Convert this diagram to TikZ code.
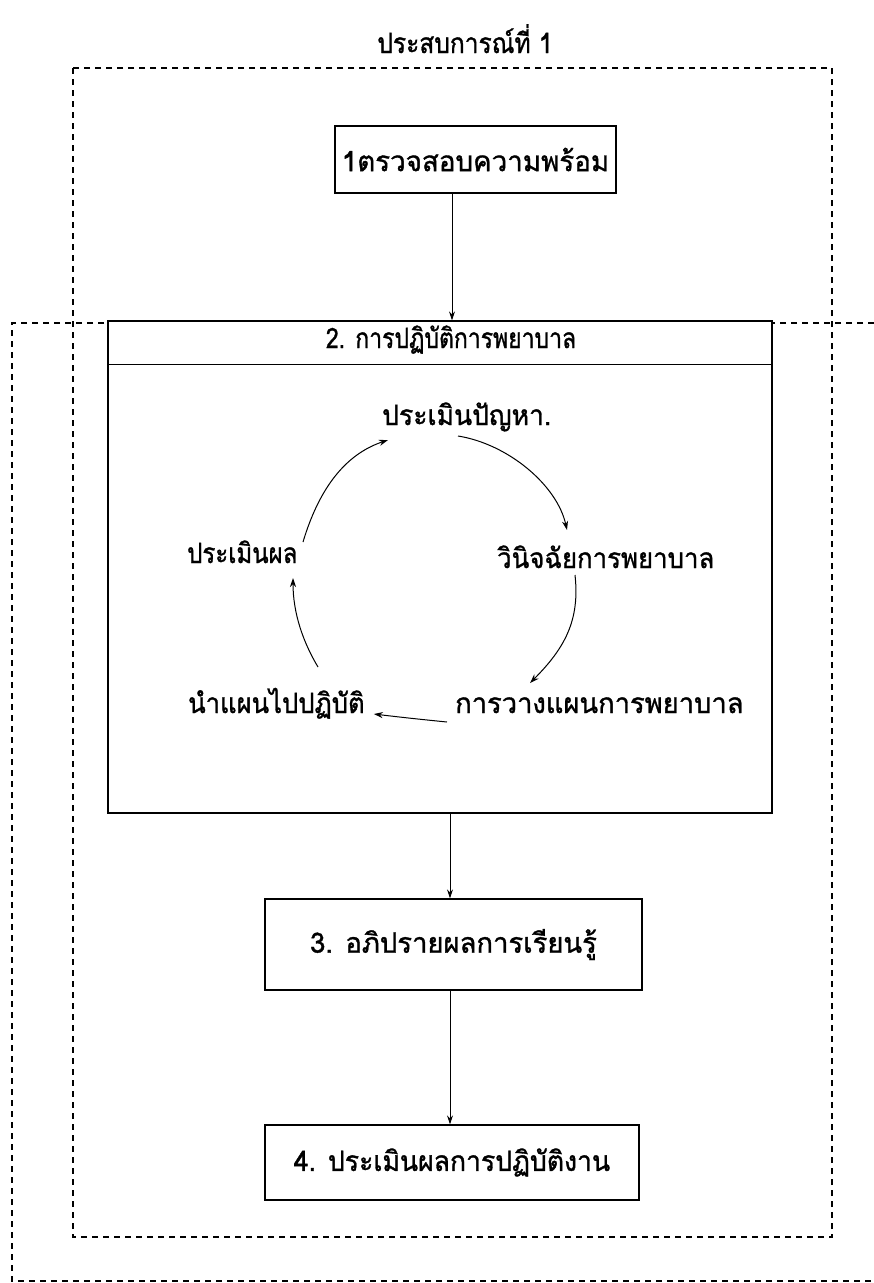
\documentclass[tikz,border=0pt]{standalone}
\usepackage{fontspec}
\newfontfamily\thai[Script=Thai, FakeBold=1.2]{Loma}
\usetikzlibrary{arrows.meta}
\newcommand{\hsq}[2]{\scalebox{#1}[1]{#2}}
\begin{document}
\begin{tikzpicture}[x=1pt,y=-1pt,
  font=\thai\fontsize{28}{32}\selectfont,
  box/.style={draw, line width=1.2pt, inner sep=0pt, fill=white},
  lbl/.style={inner sep=0pt, anchor=base west},
  arr/.style={-{Stealth[length=9pt,width=6pt]}, line width=1pt},
  frame/.style={dash pattern=on 6pt off 5pt, line width=1.2pt}]
\useasboundingbox (0,0) rectangle (874,1283);
% frames
\draw[frame] (73,68) rectangle (832,1237);
\draw[frame] (874,323) -- (12,323) -- (12,1281) -- (874,1281);
% title
\node[anchor=base, inner sep=0pt] (title) at (465,53) {\hsq{0.877}{ประสบการณ์ที่ 1}};
% boxes
\node[box, minimum width=281pt, minimum height=67pt] (b1) at (475.5,159.5) {\hsq{0.99}{1ตรวจสอบความพร้อม}};
\node[box, minimum width=664pt, minimum height=492pt] (b2) at (440,567) {};
\node[anchor=base, inner sep=0pt] (t2) at (451,348) {\hsq{0.82}{2. การปฏิบัติการพยาบาล}};
\coordinate (sep) at (0,364);
\draw[line width=1pt] (b2.west |- sep) -- (b2.east |- sep);
\node[box, minimum width=377pt, minimum height=91pt] (b3) at (453.5,944.5) {\hsq{0.98}{3. อภิปรายผลการเรียนรู้}};
\node[box, minimum width=374pt, minimum height=75pt] (b4) at (452,1162.5) {\hsq{0.949}{4. ประเมินผลการปฏิบัติงาน}};
% vertical arrows
\coordinate (ax1) at (452,0);
\coordinate (ax2) at (450,0);
\draw[arr] (b1.south -| ax1) -- (b2.north -| ax1);
\draw[arr] (b2.south -| ax2) -- (b3.north -| ax2);
\draw[arr] (b3.south -| ax2) -- (b4.north -| ax2);
% cycle
\node[lbl] (p1) at (382,425) {\hsq{0.947}{ประเมินปัญหา.}};
\node[lbl] (p2) at (497,568) {\hsq{0.921}{วินิจฉัยการพยาบาล}};
\node[lbl] (p3) at (455,713) {\hsq{0.976}{การวางแผนการพยาบาล}};
\node[lbl] (p4) at (188,713) {\hsq{0.915}{นำแผนไปปฏิบัติ}};
\node[lbl] (p5) at (187,563) {\hsq{0.857}{ประเมินผล}};
\draw[arr] ([shift={(76,11)}]p1.base west) .. controls +(50,8) and +(-10,-45) .. ([shift={(70,-38)}]p2.base west);
\draw[arr] ([shift={(78,7)}]p2.base west) .. controls +(5,45) and +(35,-35) .. ([shift={(75,-30)}]p3.base west);
\draw[arr] ([shift={(-8,9)}]p3.base west) .. controls +(-30,-3) and +(25,3) .. ([shift={(9,1)}]p4.base east);
\draw[arr] ([shift={(130,-46)}]p4.base west) .. controls +(-15,-25) and +(0,35) .. ([shift={(106,15)}]p5.base west);
\draw[arr] ([shift={(116,-21)}]p5.base west) .. controls +(15,-50) and +(-45,15) .. ([shift={(6,15)}]p1.base west);
\end{tikzpicture}
\end{document}
